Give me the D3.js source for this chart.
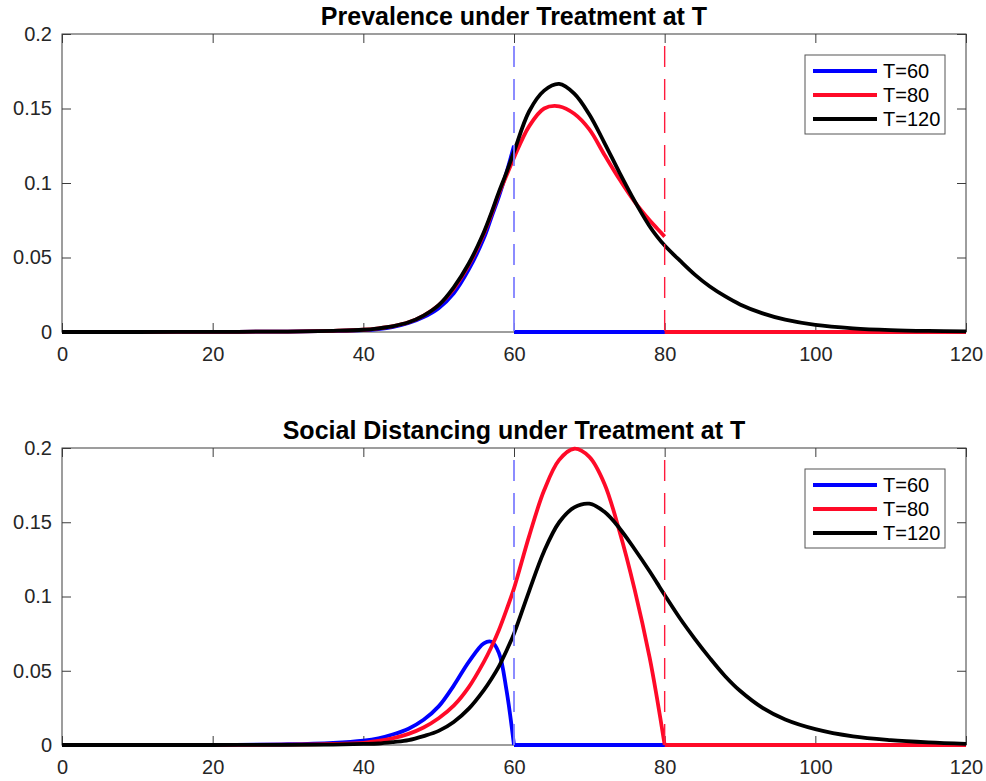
<!DOCTYPE html>
<html lang="en">
<head>
  <meta charset="UTF-8" />
  <title>Prevalence and Social Distancing under Treatment at T</title>
  <style>
    body {
      margin: 0;
      background-color: #fff;
    }

    svg {
      display: block;
      font-family: "Liberation Sans", Arial, sans-serif;
    }

    .panel-title {
      font-size: 25px;
      font-weight: bold;
      fill: #000;
    }

    .legend-label {
      font-size: 20px;
      fill: #000;
    }
  </style>
</head>
<body>
  <svg width="986" height="781"></svg>

  <script src="https://cdnjs.cloudflare.com/ajax/libs/d3/7.8.5/d3.min.js"></script>
  <script>
    // time grid (days) shared by every series
    const days = [0, 10, 20, 30, 36, 40, 42, 44, 46, 48, 50, 52, 54, 56, 57, 58, 59, 60,
                  62, 64, 66, 68, 70, 72, 74, 76, 78, 79, 80,
                  82, 84, 86, 88, 90, 93, 96, 100, 105, 110, 115, 120];

    const treatTimes = [60, 80, 120];
    const seriesNames = ["T=60", "T=80", "T=120"];

    // Prevalence (top panel) - value listed at T is the one just before treatment
    const prevT60 = [0, 0, 0.0001, 0.0003, 0.0007, 0.0012, 0.002, 0.0035, 0.006, 0.010, 0.016, 0.026, 0.042, 0.063, 0.077, 0.091, 0.107, 0.125,
                     0, 0, 0, 0, 0, 0, 0, 0, 0, 0, 0,
                     0, 0, 0, 0, 0, 0, 0, 0, 0, 0, 0, 0];
    const prevT80 = [0, 0, 0.0001, 0.0003, 0.0008, 0.0015, 0.0025, 0.004, 0.0065, 0.011, 0.018, 0.029, 0.045, 0.066, 0.079, 0.093, 0.105, 0.117,
                     0.138, 0.150, 0.1515, 0.1465, 0.136, 0.119, 0.1025, 0.0875, 0.075, 0.0695, 0.064,
                     0, 0, 0, 0, 0, 0, 0, 0, 0, 0, 0, 0];
    const prevT120 = [0, 0, 0.0001, 0.0003, 0.0008, 0.0015, 0.0025, 0.004, 0.0065, 0.011, 0.018, 0.030, 0.046, 0.067, 0.080, 0.094, 0.107, 0.121,
                      0.148, 0.162, 0.1665, 0.160, 0.146, 0.127, 0.107, 0.088, 0.071, 0.064, 0.058,
                      0.048, 0.0385, 0.0305, 0.024, 0.0185, 0.0125, 0.0083, 0.0048, 0.0025, 0.0013, 0.0007, 0.0004];

    // Social distancing (bottom panel)
    const sdT60 = [0, 0, 0, 0.0005, 0.0015, 0.003, 0.0045, 0.0072, 0.011, 0.017, 0.026, 0.040, 0.056, 0.0685, 0.0695, 0.062, 0.037, 0,
                   0, 0, 0, 0, 0, 0, 0, 0, 0, 0, 0,
                   0, 0, 0, 0, 0, 0, 0, 0, 0, 0, 0, 0];
    const sdT80 = [0, 0, 0, 0.0002, 0.0007, 0.0015, 0.0027, 0.0046, 0.0075, 0.0118, 0.018, 0.0265, 0.039, 0.056, 0.066, 0.0775, 0.091, 0.1055,
                   0.1405, 0.1715, 0.192, 0.1995, 0.194, 0.176, 0.144, 0.105, 0.059, 0.031, 0,
                   0, 0, 0, 0, 0, 0, 0, 0, 0, 0, 0, 0];
    const sdT120 = [0, 0, 0, 0.0001, 0.0003, 0.0007, 0.001, 0.002, 0.0033, 0.006, 0.0095, 0.0155, 0.0245, 0.037, 0.0445, 0.053, 0.0635, 0.075,
                    0.1035, 0.1305, 0.150, 0.160, 0.1625, 0.157, 0.146, 0.132, 0.117, 0.109, 0.101,
                    0.0855, 0.0715, 0.0585, 0.0465, 0.0365, 0.025, 0.0172, 0.0107, 0.0058, 0.0033, 0.0018, 0.0008];

    const xTicks = [0, 20, 40, 60, 80, 100, 120];
    const yTicks = [0, 0.05, 0.1, 0.15, 0.2];
    const yTickLabels = ["0", "0.05", "0.1", "0.15", "0.2"];

    const colors = ["#0000ff", "#ff0a28", "#000000"];
    const dashColors = ["#8080ff", "#ff1a3c"];
    const axisColor = "#3c3c3c";
    const labelColor = "#262626";

    const left = 62, right = 966;

    const panels = [
      { title: "Prevalence under Treatment at T", top: 34, bottom: 332,
        series: [prevT60, prevT80, prevT120] },
      { title: "Social Distancing under Treatment at T", top: 448, bottom: 745,
        series: [sdT60, sdT80, sdT120] }
    ];

    const svg = d3.select("svg");

    const x = d3.scaleLinear().domain([0, 120]).range([left, right]);

    panels.forEach(panel => {
      const y = d3.scaleLinear().domain([0, 0.2]).range([panel.bottom, panel.top]);
      const g = svg.append("g");

      // box
      g.append("rect")
        .attr("x", left)
        .attr("y", panel.top)
        .attr("width", right - left)
        .attr("height", panel.bottom - panel.top)
        .attr("fill", "none")
        .attr("stroke", axisColor)
        .attr("stroke-width", 1);

      // axes, ticks pointing inward on all four sides
      g.append("g")
        .attr("transform", `translate(0,${panel.bottom})`)
        .call(d3.axisBottom(x).tickValues(xTicks).tickSizeInner(-9).tickSizeOuter(0).tickPadding(15));
      g.append("g")
        .attr("transform", `translate(0,${panel.top})`)
        .call(d3.axisTop(x).tickValues(xTicks).tickSizeInner(-9).tickSizeOuter(0).tickFormat(""));
      g.append("g")
        .attr("transform", `translate(${left},0)`)
        .call(d3.axisLeft(y).tickValues(yTicks).tickSizeInner(-9).tickSizeOuter(0).tickPadding(10)
          .tickFormat((d, i) => yTickLabels[i]));
      g.append("g")
        .attr("transform", `translate(${right},0)`)
        .call(d3.axisRight(y).tickValues(yTicks).tickSizeInner(-9).tickSizeOuter(0).tickFormat(""));

      g.selectAll(".domain").remove();
      g.selectAll(".tick line").attr("stroke", axisColor);
      g.selectAll(".tick text")
        .attr("fill", labelColor)
        .style("font-size", "20px")
        .style("font-family", "'Liberation Sans', Arial, sans-serif");

      // title
      g.append("text")
        .attr("class", "panel-title")
        .attr("x", (left + right) / 2)
        .attr("y", panel.top - 9)
        .attr("text-anchor", "middle")
        .text(panel.title);

      const line = d3.line()
        .x(d => x(d[0]))
        .y(d => y(d[1]))
        .curve(d3.curveCatmullRom.alpha(0.5));

      // curves: blue, red, then black on top
      panel.series.forEach((vals, k) => {
        const T = treatTimes[k];
        const pts = days.map((d, i) => [d, vals[i]]);
        const before = pts.filter(p => p[0] <= T);
        // prevalence jumps to zero at T; social distancing reaches zero at T
        const after = [[T, 0]].concat(pts.filter(p => p[0] > T));
        const segments = after.length > 1 ? [before, after] : [before];
        segments.forEach(seg => {
          g.append("path")
            .datum(seg)
            .attr("d", line)
            .attr("fill", "none")
            .attr("stroke", colors[k])
            .attr("stroke-width", 3.8)
            .attr("stroke-linejoin", "round");
        });
      });

      // dashed markers at the treatment times
      treatTimes.slice(0, 2).forEach((T, k) => {
        g.append("line")
          .attr("x1", x(T))
          .attr("x2", x(T))
          .attr("y1", panel.top)
          .attr("y2", panel.bottom)
          .attr("stroke", dashColors[k])
          .attr("stroke-width", k === 0 ? 1.8 : 1.4)
          .attr("stroke-dasharray", "21,12")
          .attr("stroke-dashoffset", 21);
      });

      // legend
      const lg = g.append("g").attr("transform", `translate(805,${panel.top + 21})`);
      lg.append("rect")
        .attr("width", 140)
        .attr("height", 79)
        .attr("fill", "#fff")
        .attr("stroke", "#555")
        .attr("stroke-width", 1);
      seriesNames.forEach((name, k) => {
        const ry = 16 + k * 24;
        lg.append("line")
          .attr("x1", 8)
          .attr("x2", 72)
          .attr("y1", ry)
          .attr("y2", ry)
          .attr("stroke", colors[k])
          .attr("stroke-width", 4);
        lg.append("text")
          .attr("class", "legend-label")
          .attr("x", 78)
          .attr("y", ry)
          .attr("dy", "0.36em")
          .text(name);
      });
    });
  </script>
</body>
</html>
